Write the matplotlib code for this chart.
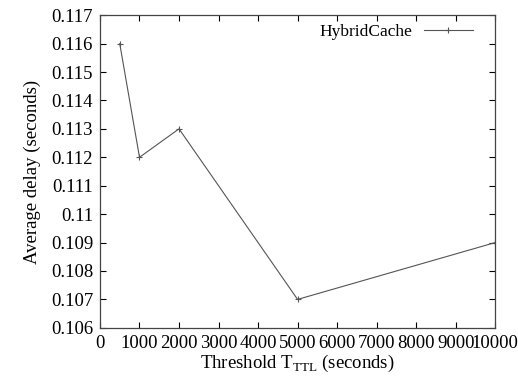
import matplotlib
matplotlib.use("Agg")
import matplotlib.pyplot as plt
from matplotlib.ticker import MultipleLocator, FuncFormatter

plt.rcParams['font.family'] = ['Liberation Serif', 'DejaVu Serif']
plt.rcParams['mathtext.fontset'] = 'custom'
plt.rcParams['mathtext.rm'] = 'Liberation Serif'

thresholds = [500, 1000, 2000, 5000, 10000]
delay = [0.116, 0.112, 0.113, 0.107, 0.109]
series_name = "HybridCache"

fig = plt.figure(figsize=(5.18, 3.79), dpi=100)
ax = fig.add_axes([0.193, 0.135, 0.763, 0.825])
ax.plot(thresholds, delay, color='#555555', lw=0.8, marker='+', ms=5, mew=0.8, label=series_name)
ax.set_xlim(0, 10000)
ax.set_ylim(0.106, 0.117)
ax.xaxis.set_major_locator(MultipleLocator(1000))
ax.yaxis.set_major_locator(MultipleLocator(0.001))
def yfmt(v, p):
    s = "%.3f" % v
    return s.rstrip('0') if s.endswith('0') else s
ax.yaxis.set_major_formatter(FuncFormatter(yfmt))
ax.tick_params(direction='in', top=True, right=True, length=4, width=0.8, labelsize=13.5, pad=5)
for s in ax.spines.values():
    s.set_linewidth(0.9)
    s.set_color('#444444')
ax.set_xlabel(r"Threshold T$_{\mathrm{TTL}}$ (seconds)", fontsize=13.5, labelpad=1)
ax.set_ylabel("Average delay (seconds)", fontsize=13.5, labelpad=7)
ax.legend(loc='upper right', frameon=False, markerfirst=False, fontsize=12.5,
          handlelength=2.8, handletextpad=0.7, borderaxespad=0.1, bbox_to_anchor=(0.965, 1.0))
fig.savefig("out.png", dpi=100)
